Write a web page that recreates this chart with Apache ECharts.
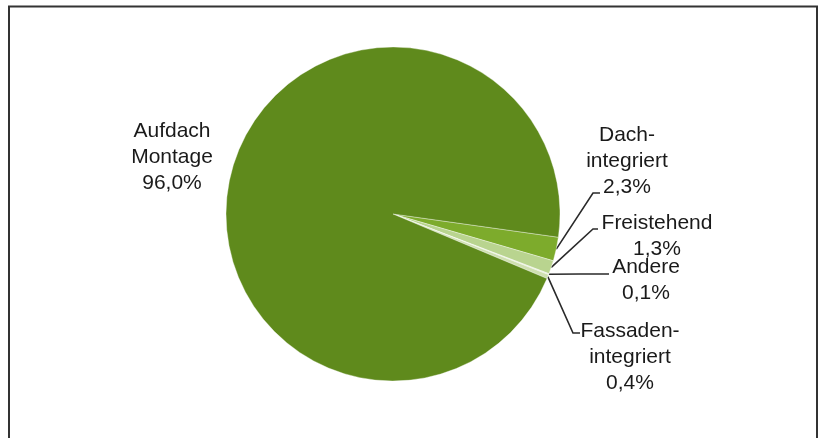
<!DOCTYPE html>
<html>
<head>
<meta charset="utf-8">
<script src="https://cdn.jsdelivr.net/npm/echarts@6/dist/echarts.min.js"></script>
<style>
html,body{margin:0;padding:0;background:#fff;}
#chart{width:826px;height:438px;}
</style>
</head>
<body>
<div id="chart"></div>
<script>
// Data
const categories = ['Dach-\nintegriert', 'Freistehend', 'Andere', 'Fassaden-\nintegriert', 'Aufdach\nMontage'];
const values = [2.3, 1.3, 0.1, 0.4, 96.0];
const valueLabels = ['2,3%', '1,3%', '0,1%', '0,4%', '96,0%'];
const colors = ['#7dab2c', '#b9d48f', '#e2ecd0', '#cfe0b0', '#5f8a1c'];

// Label placement (layout, not data)
const labelPos = [
  {x: 627, y: 161},
  {x: 657, y: 236},
  {x: 646, y: 280},
  {x: 630, y: 357},
  {x: 172, y: 157}
];
const linePts = [
  [[593, 193], [600, 193]],
  [[593, 229], [598, 229]],
  [[580, 274], [609, 274]],
  [[573, 333], [580, 333]],
  null
];

const chart = echarts.init(document.getElementById('chart'), null, {renderer: 'canvas'});
chart.setOption({
  animation: false,
  backgroundColor: '#fff',
  graphic: [{
    type: 'rect',
    shape: {x: 9, y: 6.5, width: 808, height: 440},
    style: {fill: 'none', stroke: '#333', lineWidth: 2},
    silent: true
  }],
  series: [{
    type: 'pie',
    center: [393, 214],
    radius: 167,
    startAngle: -8,
    clockwise: true,
    avoidLabelOverlap: false,
    itemStyle: {borderColor: 'rgba(255,255,255,0.6)', borderWidth: 0.6},
    label: {
      show: true,
      position: 'outside',
      fontFamily: 'Liberation Sans, Arial, sans-serif',
      fontSize: 21,
      lineHeight: 26,
      color: '#1a1a1a',
      formatter: p => categories[p.dataIndex] + '\n' + valueLabels[p.dataIndex]
    },
    labelLine: {show: true, lineStyle: {color: '#2a2a2a', width: 1.6}},
    labelLayout: function (p) {
      const i = p.dataIndex;
      const res = {x: labelPos[i].x, y: labelPos[i].y, align: 'center', verticalAlign: 'middle'};
      if (linePts[i] && p.labelLinePoints) {
        res.labelLinePoints = [p.labelLinePoints[0]].concat(linePts[i]);
      }
      return res;
    },
    data: categories.map((c, i) => ({
      name: c,
      value: values[i],
      itemStyle: {color: colors[i]},
      labelLine: {show: i !== 4}
    }))
  }]
});
</script>
</body>
</html>
